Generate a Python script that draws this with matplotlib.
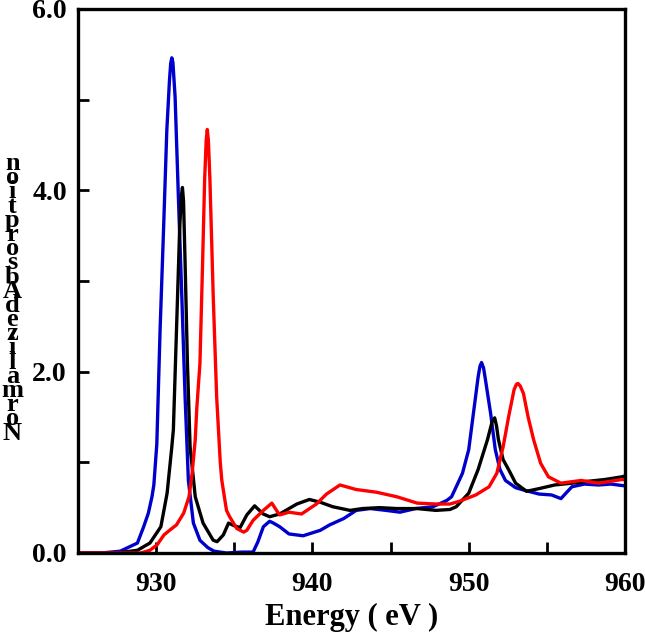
import matplotlib
matplotlib.use("Agg")
import matplotlib.pyplot as plt

plt.rcParams["font.family"] = ["Liberation Serif", "DejaVu Serif"]
plt.rcParams["font.weight"] = "bold"

# blue spectrum
blue_x = [925.0, 926.5, 927.7, 928.8, 929.2, 929.5, 929.73, 929.85, 930.04, 930.25, 930.47,
          930.68, 930.85, 930.93, 931.0, 931.07, 931.21, 931.42, 931.64, 931.85, 932.06, 932.38,
          932.8, 933.3, 933.7, 934.5, 935.5, 936.2, 936.5, 936.86, 937.26, 937.5, 937.9, 938.5,
          939.4, 940.5, 941.1, 942.0, 942.8, 943.7, 944.7, 945.6, 946.6, 947.7, 948.1, 948.6,
          948.9, 949.2, 949.6, 950.0, 950.3, 950.6, 950.72, 950.82, 950.95, 951.07, 951.4, 951.7,
          952.0, 952.35, 953.0, 953.6, 954.5, 955.3, 955.9, 956.6, 957.4, 958.3, 959.1, 960.0]
blue_y = [0.0, 0.0, 0.02, 0.11, 0.29, 0.44, 0.62, 0.75, 1.2, 2.46, 3.56,
          4.66, 5.21, 5.40, 5.46, 5.41, 5.03, 3.93, 2.83, 1.72, 0.80, 0.33,
          0.14, 0.06, 0.02, 0.0, 0.01, 0.01, 0.12, 0.29, 0.35, 0.33, 0.29, 0.21,
          0.19, 0.25, 0.31, 0.38, 0.47, 0.49, 0.47, 0.45, 0.49, 0.51, 0.54, 0.58,
          0.62, 0.73, 0.88, 1.14, 1.54, 1.94, 2.06, 2.10, 2.04, 1.91, 1.54, 1.14,
          0.92, 0.80, 0.72, 0.69, 0.65, 0.64, 0.60, 0.73, 0.76, 0.75, 0.76, 0.74]

# black spectrum
black_x = [925.0, 927.5, 928.8, 929.6, 930.3, 930.7, 931.0, 931.1, 931.3, 931.5, 931.6,
           931.68, 931.75, 931.85, 932.0, 932.17, 932.5, 933.0, 933.65, 933.9, 934.3, 934.63,
           935.0, 935.37, 935.8, 936.3, 936.85, 937.26, 937.9, 939.0, 939.8, 940.5, 941.3,
           942.4, 943.2, 944.3, 945.4, 946.7, 947.9, 948.8, 949.2, 950.0, 950.6, 951.2, 951.5,
           951.66, 951.78, 951.9, 952.2, 952.55, 953.0, 953.7, 954.5, 955.5, 956.6, 957.6,
           958.7, 959.8, 960.0]
black_y = [0.0, 0.0, 0.03, 0.11, 0.29, 0.66, 1.17, 1.36, 2.46, 3.56, 3.92,
           4.03, 3.88, 3.2, 2.09, 1.17, 0.62, 0.33, 0.14, 0.125, 0.2, 0.33,
           0.30, 0.28, 0.42, 0.52, 0.43, 0.40, 0.43, 0.54, 0.59, 0.56, 0.51,
           0.47, 0.49, 0.50, 0.49, 0.49, 0.47, 0.48, 0.51, 0.66, 0.92, 1.25, 1.45,
           1.49, 1.40, 1.25, 1.03, 0.92, 0.77, 0.68, 0.71, 0.75, 0.77, 0.79,
           0.81, 0.84, 0.85]

# red spectrum
red_x = [925.0, 929.0, 929.6, 930.06, 930.5, 931.0, 931.3, 931.76, 932.1, 932.3, 932.5,
         932.6, 932.8, 932.97, 933.1, 933.2, 933.27, 933.34, 933.44, 933.65, 933.87, 934.1,
         934.2, 934.5, 934.7, 935.16, 935.6, 935.8, 936.2, 936.86, 937.4, 937.7, 937.9, 938.5,
         939.3, 940.25, 940.9, 941.76, 942.8, 944.1, 945.4, 946.7, 947.9, 948.8, 949.4, 950.45,
         951.3, 951.8, 952.2, 952.55, 952.9, 953.05, 953.15, 953.3, 953.5, 953.8, 954.15,
         954.6, 955.1, 955.9, 957.2, 958.3, 959.8, 960.0]
red_y = [0.0, 0.0, 0.03, 0.09, 0.20, 0.27, 0.31, 0.44, 0.62, 0.88, 1.25,
         1.6, 2.09, 3.2, 4.11, 4.55, 4.67, 4.55, 4.11, 2.83, 1.72, 1.0,
         0.80, 0.47, 0.40, 0.27, 0.23, 0.25, 0.36, 0.47, 0.55, 0.47, 0.42, 0.45,
         0.43, 0.54, 0.65, 0.75, 0.70, 0.67, 0.62, 0.55, 0.54, 0.54, 0.57, 0.64,
         0.73, 0.88, 1.17, 1.50, 1.80, 1.86, 1.87, 1.84, 1.76, 1.50, 1.25,
         0.99, 0.84, 0.77, 0.80, 0.77, 0.81, 0.81]

x_ticks = [925, 930, 935, 940, 945, 950, 955, 960]
x_labels = ["", "930", "", "940", "", "950", "", "960"]
y_ticks = [0, 1, 2, 3, 4, 5, 6]
y_labels = ["0.0", "", "2.0", "", "4.0", "", "6.0"]
ylabel_text = "NormalizedAbsorption"

fig = plt.figure(figsize=(6.45, 6.32), dpi=100)
ax = fig.add_axes([0.121, 0.125, 0.848, 0.861])

ax.plot(blue_x, blue_y, color="#0000cc", lw=2.4, solid_joinstyle="round")
ax.plot(black_x, black_y, color="black", lw=2.4, solid_joinstyle="round")
ax.plot(red_x, red_y, color="#ff0000", lw=2.4, solid_joinstyle="round")

ax.set_xlim(925, 960)
ax.set_ylim(0, 6)
ax.set_xticks(x_ticks)
ax.set_xticklabels(x_labels)
ax.set_yticks(y_ticks)
ax.set_yticklabels(y_labels)
ax.tick_params(direction="in", length=8, width=2, labelsize=20, pad=8)
ax.tick_params(axis="x", pad=14)
for lbl in ax.get_xticklabels() + ax.get_yticklabels():
    lbl.set_fontweight("bold")
for sp in ax.spines.values():
    sp.set_linewidth(2.4)

ax.set_xlabel("Energy ( eV )", fontsize=22, fontweight="bold", labelpad=4)

# stacked, upright letters reading bottom to top
fig.text(0.019, 0.528, "\n".join(reversed(ylabel_text)), ha="center", va="center",
         fontsize=19, fontweight="bold", linespacing=0.51)

plt.savefig("out.png", dpi=100)
plt.close()
